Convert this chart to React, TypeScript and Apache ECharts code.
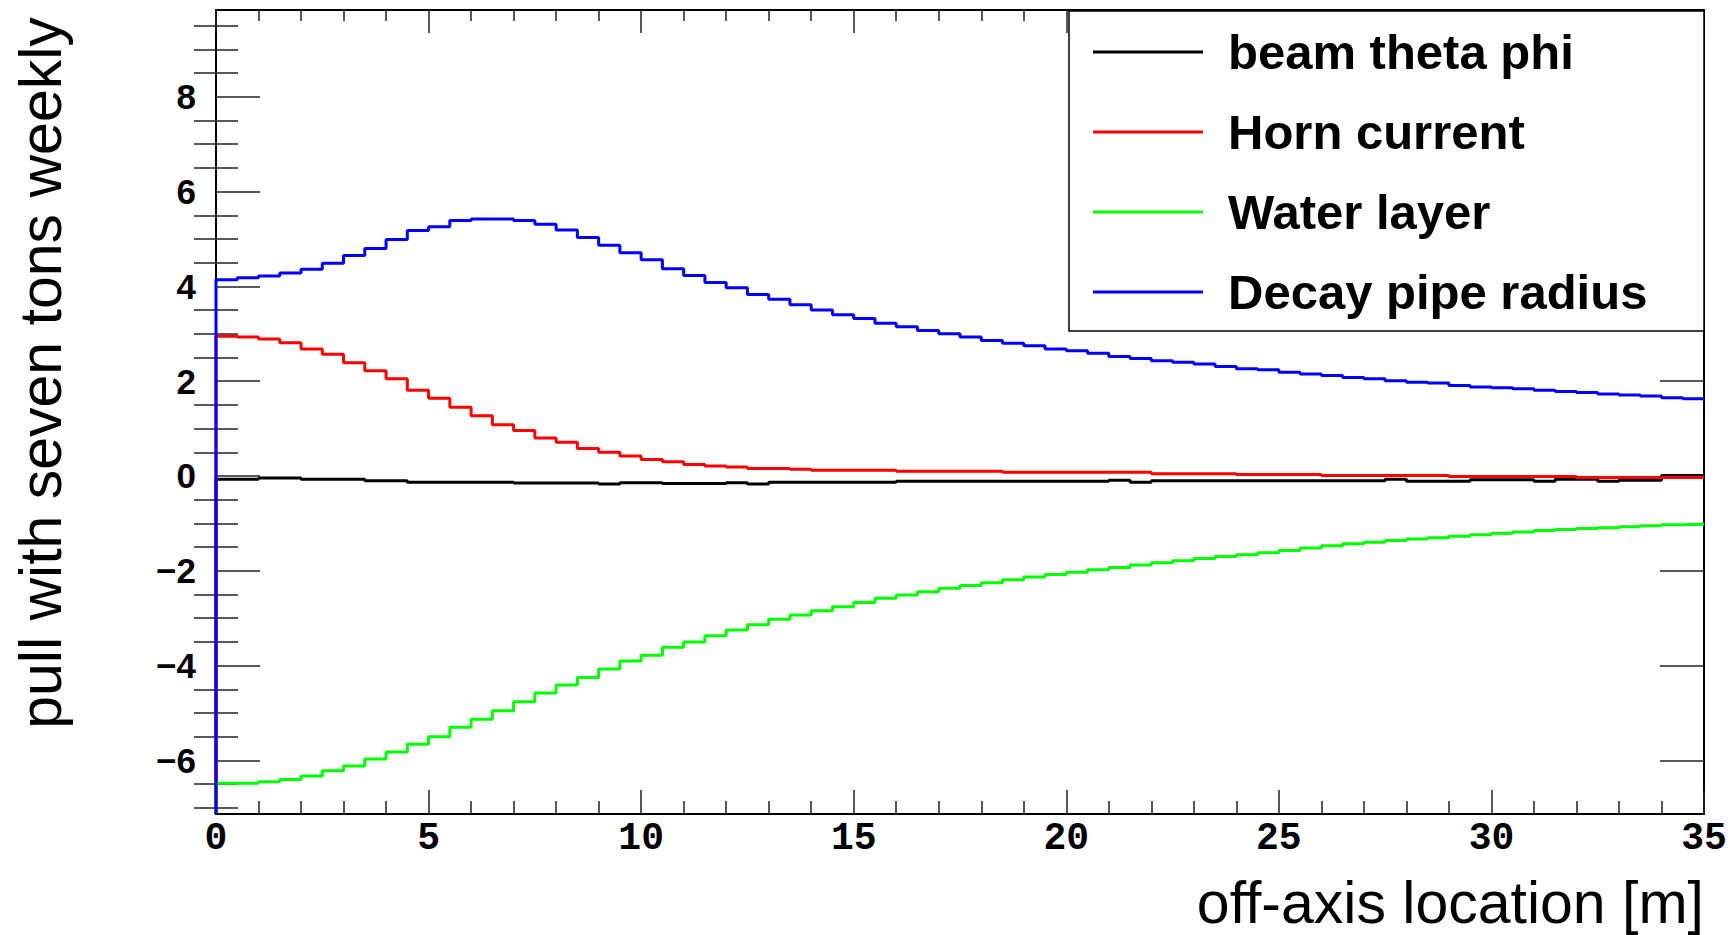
import React, { useEffect, useRef } from "react";
import * as echarts from "echarts";

// ---- data (histograms: 70 bins of 0.5 m from 0 to 35 m) ----
const BIN_WIDTH = 0.5;
const X_MIN = 0;
const X_MAX = 35;
const Y_MIN = -7.13;
const Y_MAX = 9.83;

const seriesNames = ["beam theta phi", "Horn current", "Water layer", "Decay pipe radius"];
const seriesColors = ["#000000", "#ff0000", "#00ff00", "#0000ff"];

const beamThetaPhi = [
  -0.07, -0.07, -0.04, -0.04, -0.07, -0.07, -0.07, -0.1, -0.1, -0.13,
  -0.13, -0.13, -0.13, -0.13, -0.15, -0.15, -0.15, -0.15, -0.17, -0.14,
  -0.14, -0.16, -0.16, -0.16, -0.14, -0.17, -0.13, -0.13, -0.13, -0.13,
  -0.13, -0.13, -0.11, -0.11, -0.11, -0.11, -0.11, -0.11, -0.11, -0.11,
  -0.11, -0.11, -0.09, -0.13, -0.1, -0.1, -0.1, -0.1, -0.1, -0.1,
  -0.1, -0.1, -0.1, -0.1, -0.1, -0.07, -0.11, -0.11, -0.11, -0.08,
  -0.08, -0.08, -0.11, -0.07, -0.07, -0.11, -0.09, -0.09, 0.01, 0.01,
];

const hornCurrent = [
  2.95, 2.93, 2.89, 2.81, 2.68, 2.57, 2.39, 2.22, 2.05, 1.81,
  1.64, 1.45, 1.27, 1.08, 0.96, 0.8, 0.71, 0.58, 0.5, 0.42,
  0.35, 0.3, 0.24, 0.21, 0.19, 0.16, 0.16, 0.14, 0.12, 0.12,
  0.12, 0.12, 0.1, 0.1, 0.1, 0.1, 0.1, 0.08, 0.08, 0.08,
  0.08, 0.08, 0.08, 0.08, 0.05, 0.05, 0.05, 0.05, 0.03, 0.03,
  0.03, 0.03, 0.01, 0.01, 0.01, 0.01, 0.01, 0.01, -0.01, -0.01,
  -0.01, -0.01, -0.01, -0.01, -0.03, -0.03, -0.03, -0.03, -0.03, -0.03,
];

const waterLayer = [
  -6.48, -6.48, -6.45, -6.4, -6.33, -6.22, -6.12, -5.97, -5.82, -5.66,
  -5.5, -5.3, -5.13, -4.95, -4.76, -4.58, -4.41, -4.25, -4.07, -3.9,
  -3.78, -3.61, -3.5, -3.37, -3.25, -3.14, -3.02, -2.93, -2.84, -2.76,
  -2.67, -2.58, -2.51, -2.44, -2.37, -2.31, -2.25, -2.19, -2.13, -2.08,
  -2.03, -1.98, -1.93, -1.88, -1.83, -1.79, -1.74, -1.7, -1.66, -1.62,
  -1.57, -1.52, -1.47, -1.43, -1.4, -1.36, -1.33, -1.3, -1.27, -1.24,
  -1.21, -1.18, -1.15, -1.13, -1.11, -1.09, -1.07, -1.05, -1.03, -1.02,
];

const decayPipeRadius = [
  4.14, 4.18, 4.22, 4.28, 4.36, 4.49, 4.65, 4.8, 4.99, 5.18,
  5.26, 5.39, 5.42, 5.42, 5.39, 5.31, 5.19, 5.03, 4.87, 4.71,
  4.56, 4.37, 4.23, 4.08, 3.97, 3.83, 3.73, 3.61, 3.5, 3.4,
  3.32, 3.22, 3.15, 3.07, 3.0, 2.93, 2.86, 2.8, 2.75, 2.68,
  2.64, 2.59, 2.52, 2.48, 2.43, 2.4, 2.36, 2.31, 2.26, 2.24,
  2.19, 2.15, 2.12, 2.08, 2.05, 2.01, 1.98, 1.96, 1.91, 1.88,
  1.86, 1.84, 1.81, 1.78, 1.76, 1.73, 1.71, 1.69, 1.65, 1.63,
];

const xTickInterval = 5;
const yMajorTicks = [-6, -4, -2, 0, 2, 4, 6, 8];
const yMinorTicks = [
  -7, -6.5, -5.5, -5, -4.5, -3.5, -3, -2.5, -1.5, -1, -0.5,
  0.5, 1, 1.5, 2.5, 3, 3.5, 4.5, 5, 5.5, 6.5, 7, 7.5, 8.5, 9, 9.5,
];

const xTitle = "off-axis location [m]";
const yTitle = "pull with seven tons weekly";

const allValues = [beamThetaPhi, hornCurrent, waterLayer, decayPipeRadius];

function histData(values: number[]) {
  const pts: [number, number][] = [[X_MIN, Y_MIN]];
  values.forEach((v, i) => pts.push([X_MIN + i * BIN_WIDTH, v]));
  pts.push([X_MIN + values.length * BIN_WIDTH, values[values.length - 1]]);
  return pts;
}

const SANS = "'Liberation Sans', Arial, Helvetica, sans-serif";
const MONO = "'Liberation Mono', 'DejaVu Sans Mono', monospace";
const fmtMinus = (v: number) => (v < 0 ? "\u2212" + Math.abs(v) : String(v));

export default function App() {
  const ref = useRef<HTMLDivElement>(null);
  useEffect(() => {
    if (!ref.current) return;
    const chart = echarts.init(ref.current, undefined, { renderer: "svg" });
    const tickLine = { color: "#222", width: 1.5 };
    const frameLine = { show: true, onZero: false, lineStyle: { color: "#000", width: 2 } };
    const yBase = { type: "value", min: Y_MIN, max: Y_MAX, splitLine: { show: false }, offset: 0 };
    const xBase = {
      type: "value",
      min: X_MIN,
      max: X_MAX,
      interval: xTickInterval,
      splitLine: { show: false },
      minorSplitLine: { show: false },
    };
    chart.setOption({
      animation: false,
      backgroundColor: "#fff",
      grid: { left: 216, top: 10, width: 1488, height: 804, containLabel: false },
      xAxis: [
        {
          ...xBase,
          position: "bottom",
          axisLine: frameLine,
          axisTick: { show: true, inside: true, length: 24, lineStyle: tickLine },
          minorTick: { show: true, splitNumber: 5, length: 13, lineStyle: tickLine },
          axisLabel: {
            show: true,
            margin: 5,
            fontFamily: MONO,
            fontWeight: "bold",
            fontSize: 38,
            color: "#000",
            showMinLabel: true,
            showMaxLabel: true,
          },
        },
        {
          ...xBase,
          position: "top",
          axisLine: frameLine,
          axisTick: { show: true, inside: true, length: 23, lineStyle: tickLine },
          minorTick: { show: true, splitNumber: 5, length: 11, lineStyle: tickLine },
          axisLabel: { show: false },
        },
      ],
      yAxis: [
        {
          ...yBase,
          position: "left",
          axisLine: frameLine,
          axisTick: { show: true, inside: true, length: 44, customValues: yMajorTicks, lineStyle: tickLine },
          axisLabel: {
            show: true,
            customValues: yMajorTicks,
            formatter: fmtMinus,
            margin: 20,
            fontFamily: SANS,
            fontWeight: "bold",
            fontSize: 35,
            color: "#000",
          },
        },
        {
          ...yBase,
          position: "left",
          axisLine: { show: false },
          axisTick: { show: true, inside: true, length: 22, customValues: yMinorTicks, lineStyle: tickLine },
          axisLabel: { show: false },
        },
        {
          ...yBase,
          position: "right",
          axisLine: frameLine,
          axisTick: { show: true, inside: true, length: 44, customValues: yMajorTicks, lineStyle: tickLine },
          axisLabel: { show: false },
        },
        {
          ...yBase,
          position: "right",
          axisLine: { show: false },
          axisTick: { show: true, inside: true, length: 22, customValues: yMinorTicks, lineStyle: tickLine },
          axisLabel: { show: false },
        },
      ],
      legend: {
        show: true,
        orient: "vertical",
        left: 1093,
        top: 22,
        padding: 0,
        itemWidth: 110,
        itemHeight: 3,
        itemGap: 20,
        icon: "rect",
        data: seriesNames,
        textStyle: {
          fontFamily: SANS,
          fontWeight: "bold",
          fontSize: 49,
          lineHeight: 60,
          color: "#000",
          padding: [0, 0, 0, 20],
        },
        z: 10,
      },
      graphic: [
        {
          type: "rect",
          z: 5,
          shape: { x: 1069, y: 11, width: 635, height: 320 },
          style: { fill: "#fff", stroke: "#000", lineWidth: 1.5 },
        },
        {
          type: "text",
          x: 1704,
          y: 903,
          style: {
            text: xTitle,
            fontFamily: SANS,
            fontSize: 59,
            lineHeight: 59,
            fill: "#000",
            align: "right",
            textAlign: "right",
            verticalAlign: "middle",
            textVerticalAlign: "middle",
          },
        },
        {
          type: "text",
          x: 41,
          y: 373,
          rotation: Math.PI / 2,
          style: {
            text: yTitle,
            fontFamily: SANS,
            fontSize: 59,
            lineHeight: 59,
            fill: "#000",
            align: "center",
            textAlign: "center",
            verticalAlign: "middle",
            textVerticalAlign: "middle",
          },
        },
      ],
      series: seriesNames.map((name, i) => ({
        name,
        type: "line",
        step: "end",
        xAxisIndex: 0,
        yAxisIndex: 0,
        showSymbol: false,
        symbol: "none",
        clip: false,
        color: seriesColors[i],
        lineStyle: { color: seriesColors[i], width: 3 },
        data: histData(allValues[i]),
      })),
    });
    return () => chart.dispose();
  }, []);
  return (
    <div
      ref={ref}
      style={{ position: "absolute", left: 0, top: 0, width: 1735, height: 935, background: "#fff" }}
    />
  );
}
